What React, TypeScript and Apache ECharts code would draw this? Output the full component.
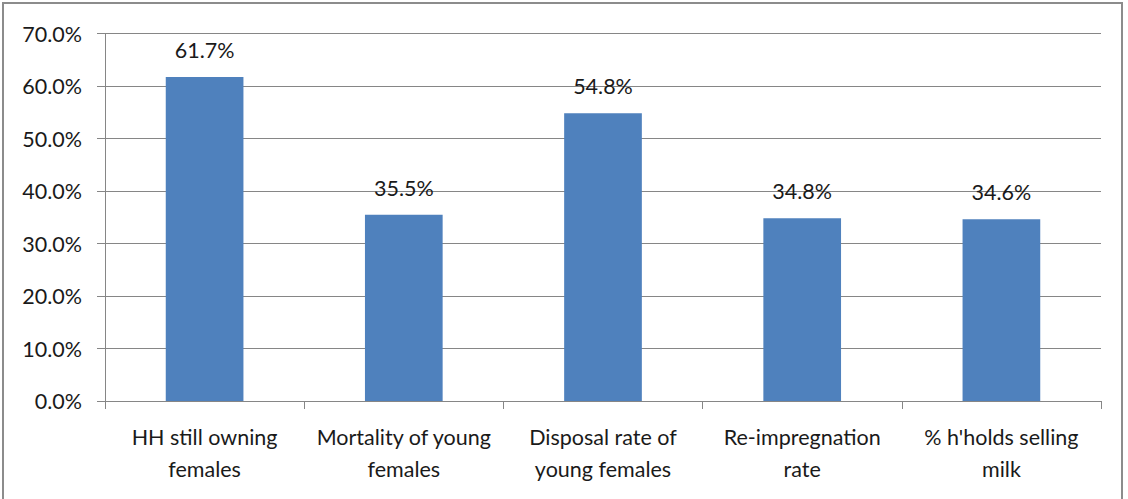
import React, { useEffect, useRef } from "react";
import * as echarts from "echarts";

const categories = [
  "HH still owning\nfemales",
  "Mortality of young\nfemales",
  "Disposal rate of\nyoung females",
  "Re-impregnation\nrate",
  "% h'holds selling\nmilk",
];
const values = [61.7, 35.5, 54.8, 34.8, 34.6];
const yTicks = { min: 0, max: 70, interval: 10 };

export default function App() {
  const ref = useRef<HTMLDivElement>(null);
  useEffect(() => {
    if (!ref.current) return;
    const chart = echarts.init(ref.current, null, { renderer: "svg" });
    const font = "Lato";
    const fs = 21.5;
    chart.setOption({
      animation: false,
      backgroundColor: "#ffffff",
      textStyle: { fontFamily: font },
      graphic: [
        {
          type: "rect",
          shape: { x: 3, y: 3, width: 1119, height: 500 },
          style: { fill: "none", stroke: "#8c8c8c", lineWidth: 2 },
          silent: true,
        },
      ],
      grid: { left: 105, right: 27, top: 33.5, bottom: 98, containLabel: false },
      xAxis: {
        type: "category",
        data: categories,
        axisLine: { lineStyle: { color: "#868686", width: 1 } },
        axisTick: { show: true, length: 8, alignWithLabel: false, lineStyle: { color: "#868686" } },
        axisLabel: {
          color: "#1a1a1a",
          fontSize: fs,
          fontFamily: font,
          margin: 20,
          lineHeight: 32,
          interval: 0,
        },
      },
      yAxis: {
        type: "value",
        min: yTicks.min,
        max: yTicks.max,
        interval: yTicks.interval,
        axisLine: { show: true, lineStyle: { color: "#868686", width: 1 } },
        axisTick: { show: true, length: 8, lineStyle: { color: "#868686" } },
        splitLine: { lineStyle: { color: "#868686", width: 1 } },
        axisLabel: {
          color: "#1a1a1a",
          fontSize: fs,
          fontFamily: font,
          margin: 23,
          formatter: (v: number) => v.toFixed(1) + "%",
        },
      },
      series: [
        {
          type: "bar",
          data: values,
          barWidth: "39%",
          itemStyle: { color: "#4F81BD" },
          label: {
            show: true,
            position: "top",
            distance: 16,
            color: "#1a1a1a",
            fontSize: fs,
            fontFamily: font,
            formatter: (p: any) => p.value.toFixed(1) + "%",
          },
        },
      ],
    });
    return () => chart.dispose();
  }, []);
  return (
    <div
      ref={ref}
      style={{ position: "fixed", left: 0, top: 0, width: 1128, height: 499 }}
    />
  );
}
